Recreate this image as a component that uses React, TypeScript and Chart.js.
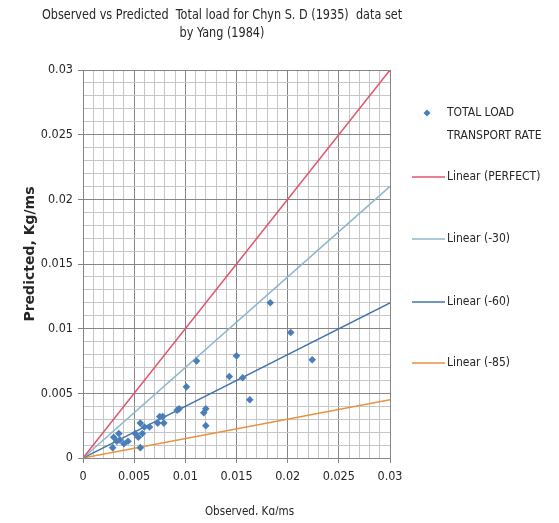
import { useEffect, useRef } from 'react';
import { Chart, registerables } from 'chart.js';

Chart.register(...registerables);

// ---- data ----
const observed = [
  0.0029, 0.003, 0.0033, 0.0035, 0.0036, 0.004, 0.0044, 0.0051, 0.0054, 0.0056,
  0.0056, 0.0058, 0.006, 0.0065, 0.0073, 0.0075, 0.0078, 0.0079, 0.0092, 0.0094,
  0.0101, 0.0111, 0.0118, 0.012, 0.012, 0.0143, 0.015, 0.0156, 0.0163, 0.0183,
  0.0203, 0.0224,
];
const predicted = [
  0.0008, 0.0016, 0.0013, 0.0019, 0.0014, 0.0011, 0.0013, 0.0019, 0.0016, 0.0008,
  0.0027, 0.0019, 0.0024, 0.0024, 0.0027, 0.0032, 0.0032, 0.0027, 0.0037, 0.0038,
  0.0055, 0.0075, 0.0035, 0.0038, 0.0025, 0.0063, 0.0079, 0.0062, 0.0045, 0.012,
  0.0097, 0.0076,
];
const lineX = [0, 0.03];
const perfectY = [0, 0.03];
const minus30Y = [0, 0.021];
const minus60Y = [0, 0.012];
const minus85Y = [0, 0.0045];

const seriesLabels = ['TOTAL LOAD TRANSPORT RATE', 'Linear (PERFECT)', 'Linear (-30)', 'Linear (-60)', 'Linear (-85)'];
const legendText = [['TOTAL LOAD', 'TRANSPORT RATE'], ['Linear (PERFECT)'], ['Linear (-30)'], ['Linear (-60)'], ['Linear (-85)']];
const titleLines = ['Observed vs Predicted  Total load for Chyn S. D (1935)  data set', 'by Yang (1984)'];
const xTitle = 'Observed, Kg/ms';
const yTitle = 'Predicted, Kg/ms';
const axisMin = 0;
const axisMax = 0.03;
const minorStep = 0.001;
const majorStep = 0.005;

// ---- styles ----
const FONT = "'Liberation Sans Narrow', 'DejaVu Sans Condensed', Roboto, sans-serif";
const TEXT = '#262626';
const colors = ['#4a7ebb', '#e0566e', '#8fb8cc', '#3f74ad', '#e8913f'];

const isMajor = (v: number) => Math.abs(v / majorStep - Math.round(v / majorStep)) < 1e-6;
const fmt = (v: number) => (isMajor(v) ? String(parseFloat(v.toFixed(4))) : '');

const pairs = (xs: number[], ys: number[]) => xs.map((x, i) => ({ x, y: ys[i] }));

const narrowText = (ctx: CanvasRenderingContext2D, t: string, x: number, y: number, k: number) => {
  const w = ctx.measureText(t).width;
  ctx.fillText(t, x, y, w * k);
};

const decorPlugin = {
  id: 'decor',
  afterDraw(chart: any) {
    const { ctx, chartArea } = chart;
    const ca = chartArea;
    ctx.save();
    ctx.fillStyle = TEXT;
    // title
    ctx.font = `14px ${FONT}`;
    ctx.textAlign = 'center';
    ctx.textBaseline = 'middle';
    titleLines.forEach((t, i) => narrowText(ctx, t, ca.left + 139, 7 + i * 18, 0.895));
    // x title
    ctx.font = `13px ${FONT}`;
    narrowText(ctx, xTitle, (ca.left + ca.right) / 2 + 13, ca.bottom + 54, 0.89);
    // y title
    ctx.save();
    ctx.translate(22, (ca.top + ca.bottom) / 2 - 10);
    ctx.rotate(-Math.PI / 2);
    ctx.font = `bold 14px 'DejaVu Sans', sans-serif`;
    ctx.fillText(yTitle, 0, 0);
    ctx.restore();
    // legend
    ctx.font = `12px ${FONT}`;
    ctx.textAlign = 'left';
    const lx = ca.right + 22;
    const tx = ca.right + 57;
    const rows = [ca.top + 43, ca.top + 107, ca.top + 169, ca.top + 232, ca.top + 293];
    legendText.forEach((lines, i) => {
      const y = rows[i];
      const ds = chart.data.datasets[i];
      if (i === 0) {
        ctx.fillStyle = ds.backgroundColor;
        ctx.beginPath();
        ctx.moveTo(lx + 15, y - 3.5);
        ctx.lineTo(lx + 18.5, y);
        ctx.lineTo(lx + 15, y + 3.5);
        ctx.lineTo(lx + 11.5, y);
        ctx.closePath();
        ctx.fill();
      } else {
        ctx.strokeStyle = ds.borderColor;
        ctx.lineWidth = 1.5;
        ctx.beginPath();
        ctx.moveTo(lx, y);
        ctx.lineTo(lx + 33, y);
        ctx.stroke();
      }
      ctx.fillStyle = TEXT;
      lines.forEach((t, j) => ctx.fillText(t, tx, y + j * 23));
    });
    ctx.restore();
  },
};

export default function App() {
  const ref = useRef<HTMLCanvasElement>(null);
  useEffect(() => {
    if (!ref.current) return;
    const lineDs = (i: number, ys: number[]) => ({
      type: 'line' as const,
      label: seriesLabels[i],
      data: pairs(lineX, ys),
      borderColor: colors[i],
      backgroundColor: colors[i],
      borderWidth: 1.5,
      pointRadius: 0,
      fill: false,
    });
    const tickFont = { family: FONT, size: 12.5 };
    const gridCommon = {
      color: (c: any) => (isMajor(c.tick?.value ?? 0) ? '#858585' : '#c6c6c6'),
      tickColor: (c: any) => (isMajor(c.tick?.value ?? 0) ? '#858585' : 'rgba(0,0,0,0)'),
      lineWidth: 1,
      tickLength: 5,
      drawTicks: true,
    };
    const chart = new Chart(ref.current, {
      type: 'scatter',
      data: {
        datasets: [
          {
            type: 'scatter',
            label: seriesLabels[0],
            data: pairs(observed, predicted),
            backgroundColor: colors[0],
            borderColor: colors[0],
            pointStyle: 'rectRot',
            pointRadius: 3.8,
            borderWidth: 0,
            order: 0,
          },
          lineDs(1, perfectY),
          lineDs(2, minus30Y),
          lineDs(3, minus60Y),
          lineDs(4, minus85Y),
        ] as any,
      },
      options: {
        animation: false,
        responsive: false,
        layout: { padding: { left: 0, top: 62, right: 161, bottom: 0 } },
        plugins: { legend: { display: false }, title: { display: false }, tooltip: { enabled: false } },
        scales: {
          x: {
            type: 'linear',
            min: axisMin,
            max: axisMax,
            ticks: {
              stepSize: minorStep,
              maxTicksLimit: 100,
              autoSkip: false,
              maxRotation: 0,
              padding: 6,
              color: TEXT,
              font: tickFont,
              callback: (v: any) => fmt(Number(v)),
            },
            grid: gridCommon,
            border: { color: '#858585' },
            afterFit: (s: any) => {
              s.height = 57;
            },
          },
          y: {
            type: 'linear',
            min: axisMin,
            max: axisMax,
            ticks: {
              stepSize: minorStep,
              maxTicksLimit: 100,
              autoSkip: false,
              padding: 5,
              color: TEXT,
              font: tickFont,
              callback: (v: any) => fmt(Number(v)),
            },
            grid: gridCommon,
            border: { color: '#858585' },
            afterFit: (s: any) => {
              s.width = 75;
            },
          },
        },
      },
      plugins: [decorPlugin],
    });
    return () => chart.destroy();
  }, []);
  return (
    <div style={{ width: 543, height: 507 }}>
      <canvas ref={ref} width={543} height={507} style={{ width: 543, height: 507 }} />
    </div>
  );
}
